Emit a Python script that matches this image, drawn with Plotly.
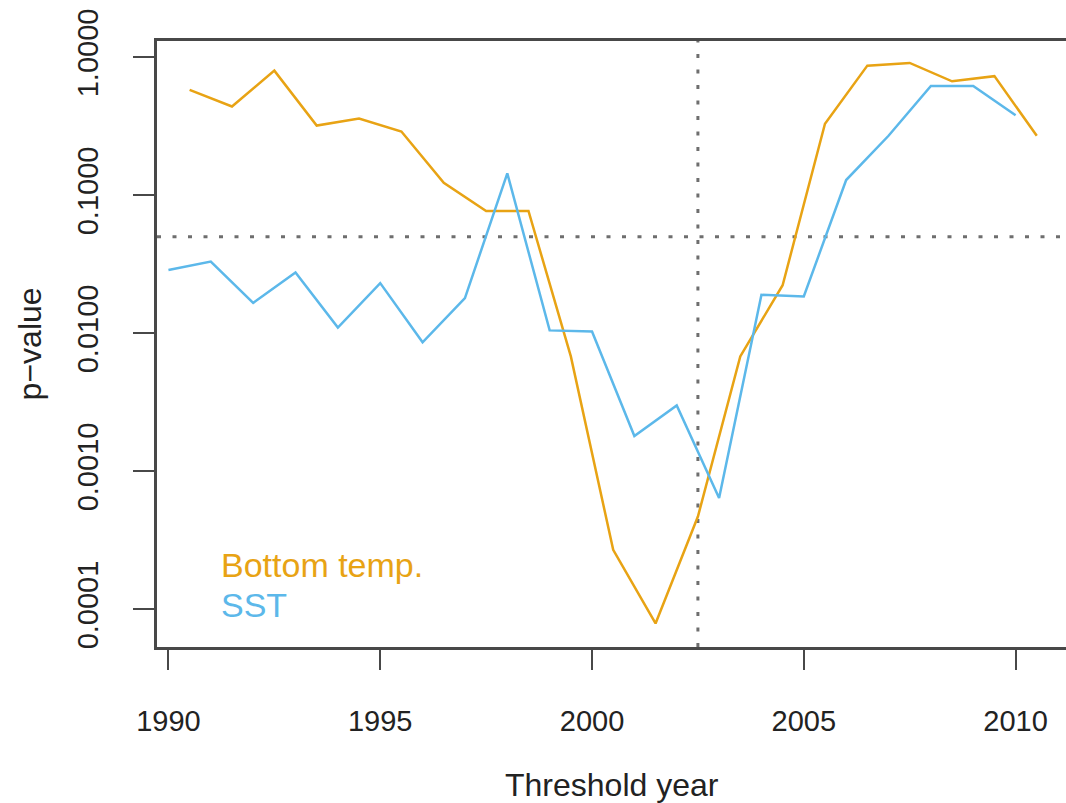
import plotly.graph_objects as go
import math

# Data
bottom_years = [1990.5, 1991.5, 1992.5, 1993.5, 1994.5, 1995.5, 1996.5, 1997.5, 1998.5, 1999.5,
                2000.5, 2001.5, 2002.5, 2003.5, 2004.5, 2005.5, 2006.5, 2007.5, 2008.5, 2009.5, 2010.5]
bottom_p = [0.58, 0.44, 0.80, 0.32, 0.36, 0.29, 0.123, 0.077, 0.077, 0.0068,
            0.00027, 0.000079, 0.00047, 0.0068, 0.0223, 0.33, 0.87, 0.91, 0.67, 0.73, 0.27]
sst_years = list(range(1990, 2011))
sst_p = [0.0288, 0.0331, 0.0166, 0.0276, 0.0110, 0.0231, 0.0086, 0.0180, 0.144, 0.0105,
         0.0103, 0.0018, 0.0030, 0.00064, 0.019, 0.0185, 0.129, 0.27, 0.62, 0.62, 0.38]
threshold_p = 0.05
threshold_year = 2002.5
x_ticks = [1990, 1995, 2000, 2005, 2010]
y_ticks = [1.0, 0.1, 0.01, 0.001, 0.0001]
y_tick_labels = ["1.0000", "0.1000", "0.0100", "0.0010", "0.0001"]

ORANGE = "#E8A314"
BLUE = "#5CB8EA"
GREY = "#6e6e6e"
AXIS = "#484848"
FONT = "Liberation Sans, Arial, Helvetica, sans-serif"

x_range = [1989.73, 2011.19]
y_range = [-4.273, 0.118]

fig = go.Figure()
# reference lines
fig.add_trace(go.Scatter(x=x_range, y=[threshold_p, threshold_p], mode="lines",
                         line=dict(color=GREY, width=3, dash="4px,11.5px"),
                         showlegend=False, hoverinfo="skip"))
fig.add_trace(go.Scatter(x=[threshold_year, threshold_year], y=[10 ** y_range[0], 10 ** y_range[1]],
                         mode="lines", line=dict(color=GREY, width=3, dash="4px,11.5px"),
                         showlegend=False, hoverinfo="skip"))
fig.add_trace(go.Scatter(x=bottom_years, y=bottom_p, mode="lines", name="Bottom temp.",
                         line=dict(color=ORANGE, width=2.5), showlegend=False))
fig.add_trace(go.Scatter(x=sst_years, y=sst_p, mode="lines", name="SST",
                         line=dict(color=BLUE, width=2.5), showlegend=False))

fig.update_layout(
    width=1066, height=803,
    margin=dict(l=157, r=0, t=41, b=156),
    paper_bgcolor="white", plot_bgcolor="white",
    font=dict(family=FONT, size=29, color="#222222"),
    showlegend=False,
    xaxis=dict(range=x_range, tickvals=x_ticks, ticktext=[str(v) for v in x_ticks],
               showgrid=False, zeroline=False, showline=True, linecolor=AXIS, linewidth=2.5,
               mirror=True, ticks="outside", ticklen=20, tickwidth=2, tickcolor=AXIS,
               ticklabelstandoff=26, tickfont=dict(size=29, color="#222222")),
    yaxis=dict(type="log", range=y_range, tickvals=y_ticks, ticktext=y_tick_labels,
               showgrid=False, zeroline=False, showline=True, linecolor=AXIS, linewidth=2.5,
               ticks="outside", ticklen=21, tickwidth=2, tickcolor=AXIS, tickangle=-90,
               ticklabelstandoff=24, tickfont=dict(size=29, color="#222222")),
    annotations=[
        dict(text="Bottom temp.", xref="paper", yref="paper", x=0.0685, y=0.1353,
             xanchor="left", yanchor="middle", showarrow=False,
             font=dict(size=34, color=ORANGE, family=FONT)),
        dict(text="SST", xref="paper", yref="paper", x=0.0685, y=0.0693,
             xanchor="left", yanchor="middle", showarrow=False,
             font=dict(size=34, color=BLUE, family=FONT)),
        dict(text="Threshold year", xref="paper", yref="paper", x=0.5, y=-0.2277,
             xanchor="center", yanchor="middle", showarrow=False,
             font=dict(size=32, color="#222222", family=FONT)),
        dict(text="p\u2212value", xref="paper", yref="paper", x=-0.1393, y=0.5,
             xanchor="center", yanchor="middle", showarrow=False, textangle=-90,
             font=dict(size=32, color="#222222", family=FONT)),
    ],
)

fig.write_html("out.html")
